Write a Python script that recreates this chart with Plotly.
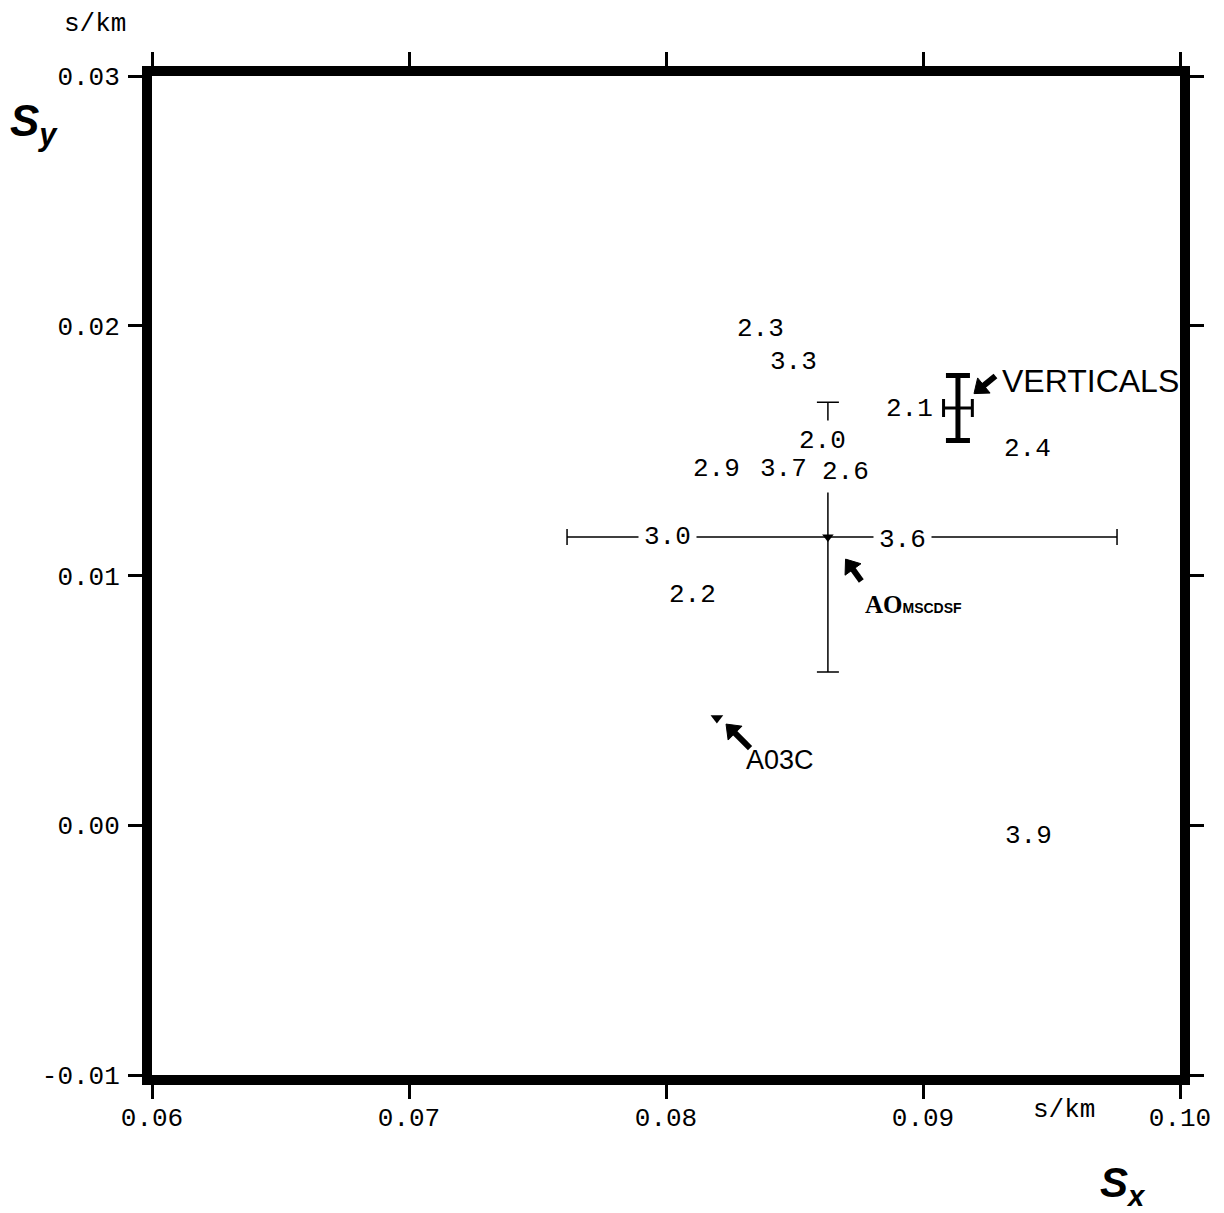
import plotly.graph_objects as go

# ---- data -------------------------------------------------------------
# frequency labels (Hz) placed at their slowness estimates (s/km)
label_text = ["2.3", "3.3", "2.0", "2.9", "3.7", "2.6", "2.1", "2.4",
              "3.0", "3.6", "2.2", "3.9", "2.8", "2.7", "3.5"]
label_sx = [0.08366, 0.08498, 0.08607, 0.08195, 0.08459, 0.08700, 0.08949, 0.09405,
            0.08004, 0.08922, 0.08105, 0.09412, 0.05990, 0.10005, 0.10005]
label_sy = [0.01987, 0.01855, 0.01539, 0.01426, 0.01426, 0.01414, 0.01667, 0.01507,
            0.01154, 0.01142, 0.00922, -0.00043, 0.01190, 0.01114, 0.00333]

# AO (MSCDSF) estimate with error bars
ao_sx = [0.08630]
ao_sy = [0.01154]
ao_err_sx_plus = [0.01125]
ao_err_sx_minus = [0.01015]
ao_err_sy = [0.0054]

# verticals estimate with error bars
vert_sx = [0.09136]
vert_sy = [0.01671]
vert_err_sx = [0.00056]
vert_err_sy = [0.0013]

# A03C estimate
a03c_sx = [0.08198]
a03c_sy = [0.00429]

# pointer arrows: [tail, head]
arrow_names = ["A03C", "AO", "VERTICALS"]
arrow_sx = [[0.08327, 0.08257], [0.08760, 0.08718], [0.09282, 0.09224]]
arrow_sy = [[0.00309, 0.00381], [0.00978, 0.01038], [0.01799, 0.01750]]

# axes
x_range = [0.06, 0.10]
y_range = [-0.01, 0.03]
x_tickvals = [0.06, 0.07, 0.08, 0.09, 0.10]
x_ticktext = ["0.06", "0.07", "0.08", "0.09", "0.10"]
y_tickvals = [-0.01, 0.00, 0.01, 0.02, 0.03]
y_ticktext = ["-0.01", "0.00", "0.01", "0.02", "0.03"]

MONO = "Liberation Mono, DejaVu Sans Mono, monospace"
SANS = "Liberation Sans, Arial, sans-serif"

fig = go.Figure()

fig.add_trace(go.Scatter(
    x=ao_sx, y=ao_sy, mode="markers",
    marker=dict(symbol="triangle-down", size=10, color="black"),
    error_x=dict(type="data", symmetric=False, array=ao_err_sx_plus,
                 arrayminus=ao_err_sx_minus, thickness=1.5, width=8, color="black"),
    error_y=dict(type="data", array=ao_err_sy, thickness=1.5, width=11, color="black"),
    showlegend=False, hoverinfo="skip"))

fig.add_trace(go.Scatter(
    x=vert_sx, y=vert_sy, mode="markers",
    marker=dict(size=1, color="black"),
    error_x=dict(type="data", array=vert_err_sx, thickness=3, width=9, color="black"),
    error_y=dict(type="data", array=vert_err_sy, thickness=5, width=12, color="black"),
    showlegend=False, hoverinfo="skip"))

fig.add_trace(go.Scatter(
    x=a03c_sx, y=a03c_sy, mode="markers",
    marker=dict(symbol="triangle-down", size=11, color="black"),
    showlegend=False, hoverinfo="skip"))

for n, xs, ys in zip(arrow_names, arrow_sx, arrow_sy):
    fig.add_trace(go.Scatter(
        x=xs, y=ys, mode="lines+markers", name=n,
        line=dict(color="black", width=6),
        marker=dict(symbol="triangle-up", size=[0, 17], color="black", opacity=1,
                    angleref="previous", line=dict(width=1, color="black")),
        showlegend=False, hoverinfo="skip"))

annotations = []
for t, sx, sy in zip(label_text, label_sx, label_sy):
    annotations.append(dict(x=sx, y=sy, xref="x", yref="y", text=t, showarrow=False,
                            font=dict(family=MONO, size=26, color="black"),
                            bgcolor="white", borderpad=5))

annotations += [
    dict(x=0.08444, y=0.00261, xref="x", yref="y", text="A03C", showarrow=False,
         font=dict(family=SANS, size=27, color="black")),
    dict(x=0.08767, y=0.00882, xref="x", yref="y", xanchor="left",
         text="<b>AO</b><span style='font-size:14px;font-family:Liberation Sans'><b>MSCDSF</b></span>",
         showarrow=False, font=dict(family="Liberation Serif, serif", size=25, color="black")),
    dict(x=0.09300, y=0.01779, xref="x", yref="y", xanchor="left", text="VERTICALS",
         showarrow=False, font=dict(family=SANS, size=32, color="black")),
    dict(x=-0.1150, y=0.952, xref="paper", yref="paper", xanchor="center", yanchor="middle",
         text="<b><i>S</i></b><sub><b><i>y</i></b></sub>", showarrow=False,
         font=dict(family=SANS, size=44, color="black")),
    dict(x=0.9446, y=-0.1110, xref="paper", yref="paper", xanchor="center", yanchor="middle",
         text="<b><i>S</i></b><sub><b><i>x</i></b></sub>", showarrow=False,
         font=dict(family=SANS, size=42, color="black")),
    dict(x=-0.0554, y=1.052, xref="paper", yref="paper", xanchor="center", yanchor="middle",
         text="s/km", showarrow=False, font=dict(family=MONO, size=26, color="black")),
    dict(x=0.8872, y=-0.035, xref="paper", yref="paper", xanchor="center", yanchor="middle",
         text="s/km", showarrow=False, font=dict(family=MONO, size=26, color="black")),
]

axis_common = dict(showline=True, linewidth=10, linecolor="black", mirror="allticks",
                   ticks="outside", ticklen=14, tickwidth=2.5, tickcolor="black",
                   showgrid=False, zeroline=False, automargin=False,
                   tickfont=dict(family=MONO, size=26, color="black"))

# page body has an 8px margin, so the figure is sized/offset to compensate
fig.update_layout(
    width=1216, height=1205,
    margin=dict(l=144, r=44, t=68, b=138),
    paper_bgcolor="white", plot_bgcolor="white",
    xaxis=dict(range=x_range, tickvals=x_tickvals, ticktext=x_ticktext,
               ticklabelstandoff=-4, **axis_common),
    yaxis=dict(range=y_range, tickvals=y_tickvals, ticktext=y_ticktext,
               ticklabelstandoff=3, **axis_common),
    annotations=annotations,
)

fig.write_html("out.html")
